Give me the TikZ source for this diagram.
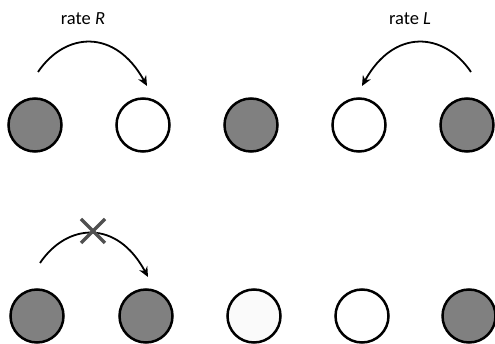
\documentclass[tikz,border=0pt]{standalone}
\usepackage{fontspec}
\setmainfont{Carlito}
\usetikzlibrary{arrows.meta}
\definecolor{site}{HTML}{808080}
\definecolor{ghost}{HTML}{FAFAFA}
\definecolor{cross}{HTML}{505050}
\tikzset{
  full/.style={circle,draw=black,line width=2.5pt,fill=site,minimum size=53pt,inner sep=0pt},
  empty/.style={circle,draw=black,line width=2.5pt,fill=white,minimum size=53pt,inner sep=0pt},
  hop/.style={line width=1.8pt,-{Stealth[length=10pt,width=9pt]}},
  lbl/.style={font=\fontsize{18.5}{20}\selectfont,inner sep=0pt},
  xmark/.style={draw=cross,line width=3.5pt}
}
\begin{document}
\begin{tikzpicture}[x=1pt,y=-1pt]
\useasboundingbox (0,0) rectangle (495,344);
% top row
\node[full]  (t1) at (35,125) {};
\node[empty] (t2) at (143,125) {};
\node[full]  (t3) at (251,125) {};
\node[empty] (t4) at (359,125) {};
\node[full]  (t5) at (467,125) {};
% bottom row
\node[full]  (b1) at (37,316) {};
\node[full]  (b2) at (146,316) {};
\node[circle,draw=black,line width=2.5pt,fill=ghost,minimum size=53pt,inner sep=0pt] (b3) at (254,316) {};
\node[empty] (b4) at (362,316) {};
\node[full]  (b5) at (469,316) {};
% labels
\node[lbl] (lr) at (83,19) {rate \textit{R}};
\node[lbl] (ll) at (410,19) {rate \textit{L}};
% arrows
\coordinate (sR) at (38,72);
\coordinate (eR) at (147,86);
\draw[hop] (sR) .. controls (65,32) and (115,28) .. (eR);
\coordinate (sL) at (471,72);
\coordinate (eL) at (362,86);
\draw[hop] (sL) .. controls (444,32) and (394,28) .. (eL);
\coordinate (sB) at (40,263);
\coordinate (eB) at (148,277);
\draw[hop] (sB) .. controls (67,223) and (117,219) .. (eB);
% blocked mark
\coordinate (xc) at (93,231);
\draw[xmark] ([shift={(-12,-12)}]xc) -- ([shift={(12,12)}]xc);
\draw[xmark] ([shift={(-12,12)}]xc) -- ([shift={(12,-12)}]xc);
\end{tikzpicture}
\end{document}
